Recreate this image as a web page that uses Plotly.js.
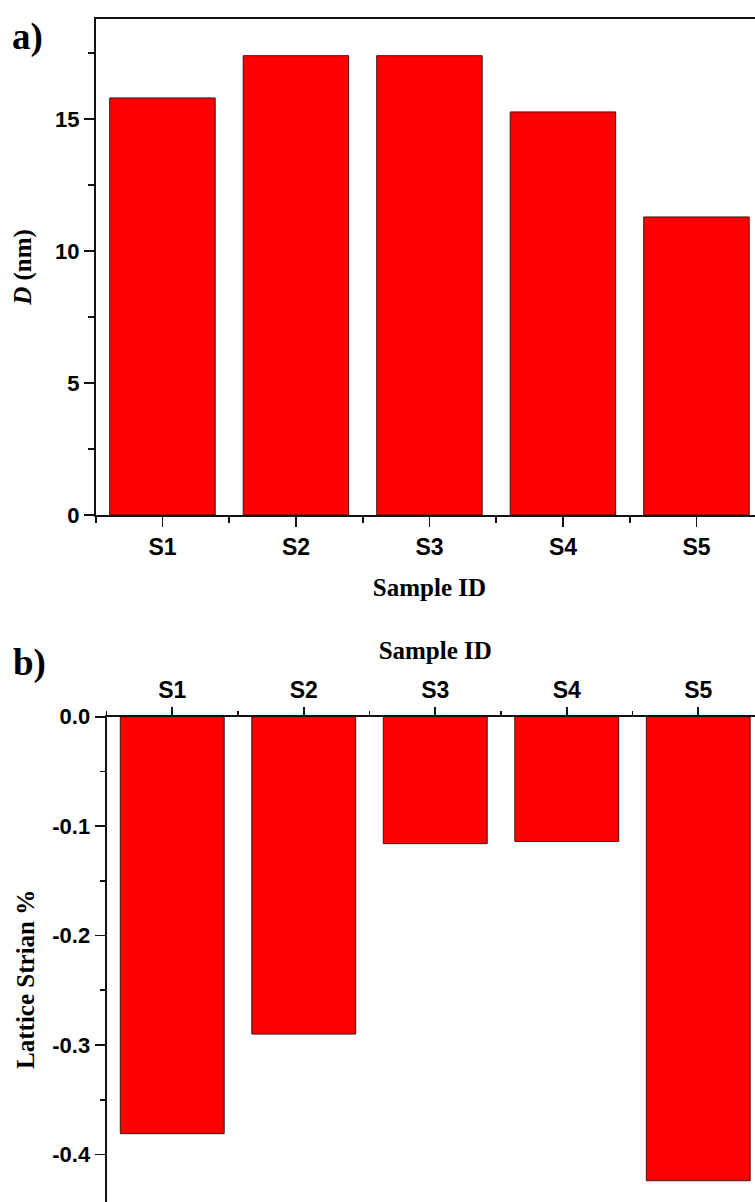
<!DOCTYPE html>
<html>
<head>
<meta charset="utf-8">
<script src="https://cdn.plot.ly/plotly-3.0.1.min.js"></script>
<style>
html, body { margin: 0; padding: 0; overflow: hidden; background: #fff; }
#chart { width: 765px; height: 1242px; }
</style>
</head>
<body>
<div id="chart"></div>
<script>
// ---- data ----
const samples = ["S1", "S2", "S3", "S4", "S5"];
const crystalliteSize = [15.8, 17.4, 17.4, 15.27, 11.29];   // D (nm)
const latticeStrain = [-0.381, -0.29, -0.116, -0.114, -0.424]; // Lattice strain %
const yTicksA = [0, 5, 10, 15];
const yTickTextA = ["0", "5", "10", "15"];
const yTicksB = [0, -0.1, -0.2, -0.3, -0.4];
const yTickTextB = ["0.0", "-0.1", "-0.2", "-0.3", "-0.4"];

const W = 765, H = 1242;
const idx = samples.map((_, i) => i);

const sans = "Liberation Sans, Arial, sans-serif";
const serif = "Liberation Serif, Times New Roman, serif";
const lineCol = "#111";

const barStyle = {
  color: "#ff0000",
  line: { color: "#3a1414", width: 1 }
};

const traces = [
  { type: "bar", x: idx, y: crystalliteSize, width: 0.79, marker: barStyle,
    xaxis: "x", yaxis: "y", hoverinfo: "x+y" },
  { type: "bar", x: idx, y: latticeStrain, width: 0.79, marker: barStyle,
    xaxis: "x2", yaxis: "y2", hoverinfo: "x+y" }
];

const commonX = {
  type: "linear", range: [-0.5, 4.5], tickmode: "array", tickvals: idx, ticktext: samples,
  ticks: "outside", tickwidth: 1.7, tickcolor: lineCol,
  showline: true, linecolor: lineCol, linewidth: 1.9,
  showgrid: false, zeroline: false, fixedrange: true,
  tickfont: { family: sans, size: 23, color: "#000", weight: "bold" }
};
const commonY = {
  type: "linear", tickmode: "array",
  ticks: "outside", tickwidth: 1.7, tickcolor: lineCol, ticklen: 10,
  showline: true, linecolor: lineCol, linewidth: 1.9,
  showgrid: false, zeroline: false, fixedrange: true,
  tickfont: { family: sans, size: 22, color: "#000", weight: "bold" }
};
const titleFont = { family: serif, size: 25, color: "#000", weight: "bold" };

const layout = {
  width: W, height: H,
  margin: { l: 0, r: 0, t: 0, b: 0, pad: 0 },
  paper_bgcolor: "#fff", plot_bgcolor: "#fff",
  showlegend: false,
  xaxis: Object.assign({}, commonX, {
    domain: [95.7 / W, 763.2 / W], anchor: "y", side: "bottom", mirror: true,
    ticklen: 10,
    minor: { ticks: "outside", tick0: 0.5, dtick: 1, ticklen: 6, tickwidth: 1.7, tickcolor: lineCol },
    title: { text: "Sample ID", font: titleFont, standoff: 20 }
  }),
  yaxis: Object.assign({}, commonY, {
    domain: [(H - 515) / H, (H - 19) / H], anchor: "x", range: [0, 18.79], mirror: true,
    tickvals: yTicksA, ticktext: yTickTextA,
    minor: { ticks: "outside", tick0: 0, dtick: 2.5, ticklen: 6, tickwidth: 1.7, tickcolor: lineCol },
    title: { text: "<i>D</i> (nm)", font: titleFont, standoff: 16 }
  }),
  xaxis2: Object.assign({}, commonX, {
    domain: [106.5 / W, 764 / W], anchor: "y2", side: "top", mirror: false,
    ticklen: 8,
    minor: { ticks: "outside", tick0: 0.5, dtick: 1, ticklen: 4, tickwidth: 1.7, tickcolor: lineCol },
    title: { text: "Sample ID", font: titleFont, standoff: 10 }
  }),
  yaxis2: Object.assign({}, commonY, {
    domain: [0, (H - 716.7) / H], anchor: "x2", range: [-0.48, 0], mirror: false,
    tickvals: yTicksB, ticktext: yTickTextB,
    minor: { ticks: "outside", tick0: 0, dtick: 0.05, ticklen: 5, tickwidth: 1.7, tickcolor: lineCol },
    title: { text: "Lattice Strian %", font: titleFont, standoff: 10 }
  }),
  annotations: [
    { text: "a)", xref: "paper", yref: "paper", x: 10 / W, y: 1 - 14 / H,
      xanchor: "left", yanchor: "top", showarrow: false,
      font: { family: serif, size: 37, color: "#000", weight: "bold" } },
    { text: "b)", xref: "paper", yref: "paper", x: 11 / W, y: 1 - 640 / H,
      xanchor: "left", yanchor: "top", showarrow: false,
      font: { family: serif, size: 37, color: "#000", weight: "bold" } }
  ]
};

Plotly.newPlot("chart", traces, layout, { displayModeBar: false, staticPlot: true });
</script>
</body>
</html>
